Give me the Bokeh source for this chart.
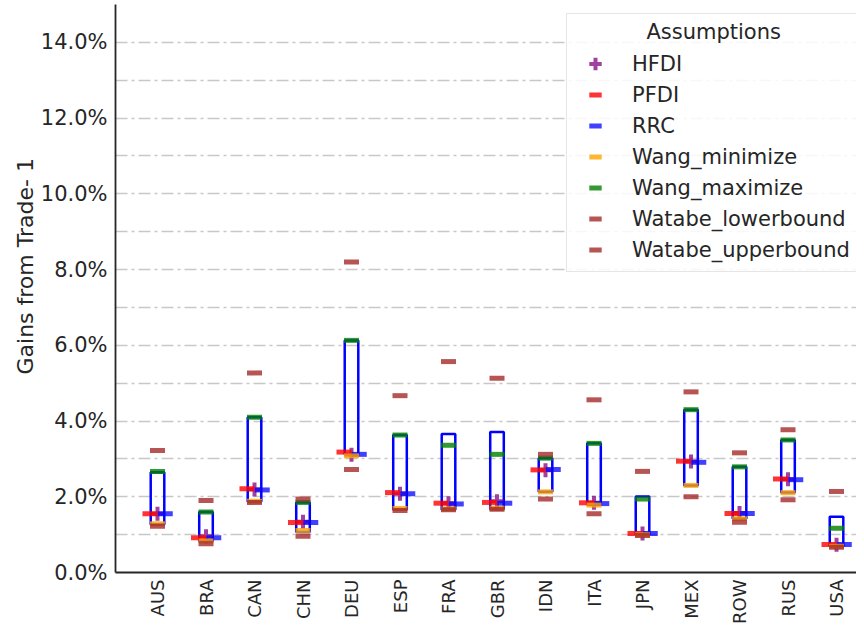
import math
from bokeh.plotting import figure
from bokeh.models import (ColumnDataSource, Range1d, FixedTicker, PrintfTickFormatter,
                          Legend, LegendItem, Title)
from bokeh.transform import dodge
from bokeh.embed import file_html
from bokeh.resources import INLINE

countries = ["AUS", "BRA", "CAN", "CHN", "DEU", "ESP", "FRA", "GBR",
             "IDN", "ITA", "JPN", "MEX", "ROW", "RUS", "USA"]
hfdi = [1.55, 0.96, 2.19, 1.34, 3.11, 2.08, 1.83, 1.88, 2.70, 1.84, 1.03, 2.93, 1.57, 2.46, 0.73]
pfdi = [1.55, 0.92, 2.21, 1.32, 3.18, 2.11, 1.83, 1.85, 2.71, 1.84, 1.03, 2.94, 1.56, 2.47, 0.74]
rrc = [1.55, 0.92, 2.18, 1.32, 3.12, 2.08, 1.81, 1.83, 2.72, 1.82, 1.03, 2.91, 1.56, 2.45, 0.74]
wang_min = [1.29, 0.83, 1.88, 1.11, 3.08, 1.69, 1.68, 1.70, 2.13, 1.78, 1.00, 2.30, 1.42, 2.11, 0.69]
wang_max = [2.67, 1.60, 4.10, 1.85, 6.13, 3.63, 3.36, 3.12, 3.02, 3.41, 1.94, 4.30, 2.79, 3.50, 1.17]
watabe_low = [1.22, 0.76, 1.85, 0.96, 2.72, 1.64, 1.66, 1.67, 1.94, 1.55, 0.98, 2.00, 1.33, 1.92, 0.67]
watabe_up = [3.22, 1.90, 5.27, 1.94, 8.20, 4.67, 5.57, 5.13, 3.12, 4.56, 2.67, 4.77, 3.16, 3.77, 2.14]
box_low = [1.27, 0.83, 1.87, 1.07, 3.12, 1.66, 1.66, 1.67, 2.13, 1.79, 1.00, 2.30, 1.42, 2.11, 0.69]
box_high = [2.65, 1.60, 4.10, 1.85, 6.13, 3.63, 3.66, 3.71, 3.02, 3.41, 2.01, 4.30, 2.79, 3.50, 1.47]

major_ticks = [0, 2, 4, 6, 8, 10, 12, 14]
minor_ticks = [1, 3, 5, 7, 9, 11, 13]

idx = list(range(len(countries)))
src = ColumnDataSource(dict(x=idx, hfdi=hfdi, pfdi=pfdi, rrc=rrc, wang_min=wang_min,
                            wang_max=wang_max, watabe_low=watabe_low, watabe_up=watabe_up,
                            box_low=box_low, box_high=box_high))

FONT = "DejaVu Sans"
TXT = "#262626"

p = figure(width=856, height=626, output_backend="svg", toolbar_location=None,
           x_range=Range1d(-0.866, 14.412), y_range=Range1d(0, 15.0),
           min_border_left=115, min_border_right=0, min_border_top=4, min_border_bottom=53)
p.outline_line_color = None
p.background_fill_color = "white"
p.border_fill_color = "white"

# axes
p.xaxis.ticker = FixedTicker(ticks=idx)
p.xaxis.major_label_overrides = {i: c for i, c in zip(idx, countries)}
p.xaxis.major_label_orientation = math.pi / 2
p.yaxis.ticker = FixedTicker(ticks=major_ticks, minor_ticks=minor_ticks)
p.yaxis.formatter = PrintfTickFormatter(format="%.1f%%")
for ax in (p.xaxis, p.yaxis):
    ax.major_tick_line_color = None
    ax.minor_tick_line_color = None
    ax.major_tick_out = 0
    ax.major_tick_in = 0
    ax.minor_tick_out = 0
    ax.minor_tick_in = 0
    ax.axis_line_color = TXT
    ax.axis_line_width = 1.8
    ax.major_label_text_font = FONT
    ax.major_label_text_color = TXT
p.yaxis.major_label_text_font_size = "21px"
p.yaxis.major_label_standoff = 8
p.xaxis.major_label_text_font_size = "18px"
p.xaxis.major_label_standoff = 7

# y axis title, placed as a side title
ytitle = Title(text="Gains from Trade- 1", align="left", offset=198, standoff=0,
               text_font=FONT, text_font_size="22px", text_font_style="normal",
               text_color=TXT)
p.add_layout(ytitle, "left")

# grid
p.xgrid.grid_line_color = None
p.ygrid.ticker = FixedTicker(ticks=major_ticks, minor_ticks=minor_ticks)
for attr in ("grid_line", "minor_grid_line"):
    setattr(p.ygrid, attr + "_color", "#c8c8c8")
    setattr(p.ygrid, attr + "_width", 1.5)
    setattr(p.ygrid, attr + "_dash", "12 4 3 4")

# range boxes
p.vbar(x="x", width=0.28, bottom="box_low", top="box_high", source=src,
       fill_color=None, line_color="#0000ff", line_width=2.5)

DS = 15
r_hfdi = p.scatter(x="x", y="hfdi", source=src, marker="cross", size=14, line_width=4,
                   line_color="#800080", line_alpha=0.75)
r_pfdi = p.scatter(x=dodge("x", -0.155), y="pfdi", source=src, marker="dash", size=DS,
                   line_width=5, line_color="#ff0000", line_alpha=0.8)
r_rrc = p.scatter(x=dodge("x", 0.16), y="rrc", source=src, marker="dash", size=DS,
                  line_width=5, line_color="#0000ff", line_alpha=0.75)
r_wmin = p.scatter(x="x", y="wang_min", source=src, marker="dash", size=DS,
                   line_width=5, line_color="#ffa500", line_alpha=0.8)
r_wmax = p.scatter(x="x", y="wang_max", source=src, marker="dash", size=DS,
                   line_width=5, line_color="#008000", line_alpha=0.8)
r_wlo = p.scatter(x="x", y="watabe_low", source=src, marker="dash", size=DS,
                  line_width=5, line_color="#a52a2a", line_alpha=0.8)
r_wup = p.scatter(x="x", y="watabe_up", source=src, marker="dash", size=DS,
                  line_width=5, line_color="#a52a2a", line_alpha=0.8)

legend = Legend(items=[
    LegendItem(label="HFDI", renderers=[r_hfdi]),
    LegendItem(label="PFDI", renderers=[r_pfdi]),
    LegendItem(label="RRC", renderers=[r_rrc]),
    LegendItem(label="Wang_minimize", renderers=[r_wmin]),
    LegendItem(label="Wang_maximize", renderers=[r_wmax]),
    LegendItem(label="Watabe_lowerbound", renderers=[r_wlo]),
    LegendItem(label="Watabe_upperbound", renderers=[r_wup]),
], location=(451, 300))
legend.title = "\u00a0" * 11 + "Assumptions"
legend.title_text_font = FONT
legend.title_text_font_size = "21px"
legend.title_text_font_style = "normal"
legend.title_text_color = TXT
legend.title_standoff = 4
legend.label_text_font = FONT
legend.label_text_font_size = "21px"
legend.label_text_color = TXT
legend.glyph_width = 44
legend.glyph_height = 31
legend.label_height = 31
legend.label_standoff = 15
legend.spacing = 0
legend.padding = 6
legend.margin = 0
legend.border_line_color = "#cccccc"
legend.border_line_width = 1.5
legend.background_fill_alpha = 0.85
p.add_layout(legend)

open("out.html", "w").write(file_html(p, INLINE))
